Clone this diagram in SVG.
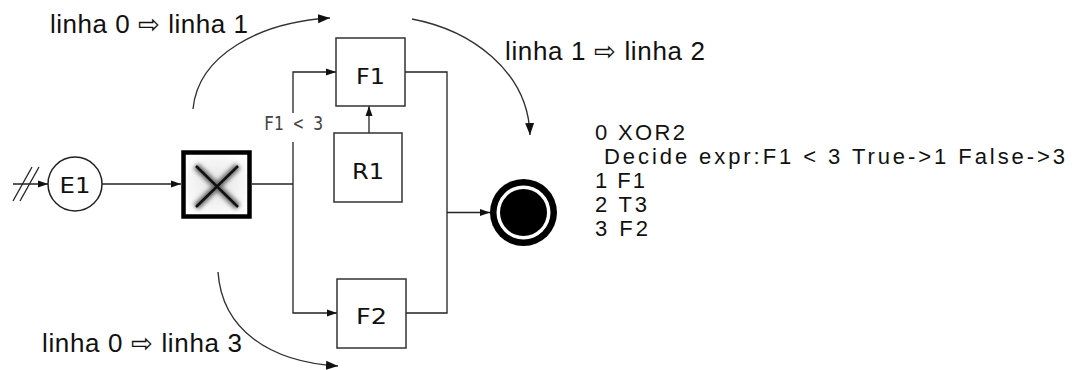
<svg xmlns="http://www.w3.org/2000/svg" width="1074" height="370" viewBox="0 0 1074 370">
<style>
.box{fill:#fff;stroke:#333;stroke-width:1.5}
.lbl{font-family:"DejaVu Sans",sans-serif;font-size:22px;fill:#111;text-anchor:middle}
.note{font-family:"Liberation Sans",Arial,"DejaVu Sans",sans-serif;font-size:26px;fill:#111}
.list{font-family:"Liberation Sans",Arial,sans-serif;font-size:22px;fill:#111}
.cond{font-family:"DejaVu Sans Mono",monospace;font-size:19px;fill:#444}
.ln{fill:none;stroke:#222;stroke-width:1.3}
.arc{fill:none;stroke:#333;stroke-width:1.4}
</style>
<defs>
<marker id="ah" markerUnits="userSpaceOnUse" markerWidth="10" markerHeight="10" viewBox="0 0 10 10" refX="10" refY="5" orient="auto">
<path d="M0,1.5 L10,5 L0,8.5 Z" fill="#111"/>
</marker>
<marker id="ahb" markerUnits="userSpaceOnUse" markerWidth="12" markerHeight="12" viewBox="0 0 12 12" refX="12" refY="6" orient="auto">
<path d="M0,1.5 L12,6 L0,10.5 Z" fill="#111"/>
</marker>
<filter id="blur" x="-20%" y="-20%" width="140%" height="140%">
<feGaussianBlur stdDeviation="2"/>
</filter>
<radialGradient id="gw" cx="0.5" cy="0.5" r="0.6">
<stop offset="0" stop-color="#e4e4e4"/>
<stop offset="1" stop-color="#fff"/>
</radialGradient>
</defs>

<g id="connectors">
<line class="ln" x1="13" y1="184" x2="48" y2="184" marker-end="url(#ah)"/>
<line class="ln" x1="13" y1="201" x2="32" y2="167"/>
<line class="ln" x1="20" y1="201" x2="39" y2="167"/>
<line class="ln" x1="102" y1="184" x2="181" y2="184" marker-end="url(#ah)"/>
<line class="ln" x1="252" y1="184" x2="293" y2="184"/>
<line class="ln" x1="293" y1="184" x2="293" y2="142"/>
<polyline class="ln" points="293,113 293,72 336,72" marker-end="url(#ah)"/>
<polyline class="ln" points="293,184 293,313 337,313" marker-end="url(#ah)"/>
<line class="ln" x1="369" y1="133" x2="369" y2="106" marker-end="url(#ah)"/>
<polyline class="ln" points="405,72 447,72 447,313 406,313"/>
<line class="ln" x1="447" y1="212.5" x2="490" y2="212.5" marker-end="url(#ah)"/>
<path class="arc" d="M193,109 C198,55 260,22 330,18" marker-end="url(#ahb)"/>
<path class="arc" d="M412,19 C470,30 528,70 530,135" marker-end="url(#ahb)"/>
<path class="arc" d="M218,272 C222,330 270,362 338,366" marker-end="url(#ahb)"/>
<text class="cond" x="264" y="130" textLength="59" lengthAdjust="spacingAndGlyphs">F1 &lt; 3</text>
</g>

<g id="E1">
<circle cx="75" cy="184" r="27" fill="#fff" stroke="#222" stroke-width="1.5"/>
<text class="lbl" x="75" y="192.5" textLength="31" lengthAdjust="spacingAndGlyphs">E1</text>
</g>

<g id="XOR2">
<rect x="183.5" y="152.5" width="66" height="64" fill="url(#gw)" stroke="#000" stroke-width="4.5"/>
<g filter="url(#blur)" stroke="#666" stroke-width="7">
<line x1="196" y1="166" x2="238" y2="207"/>
<line x1="238" y1="166" x2="196" y2="207"/>
</g>
<g stroke="#111" stroke-width="2.5">
<line x1="196" y1="166" x2="238" y2="207"/>
<line x1="238" y1="166" x2="196" y2="207"/>
</g>
</g>

<g id="F1">
<rect class="box" x="336" y="38" width="69" height="68"/>
<text class="lbl" x="370.5" y="83.5" textLength="29" lengthAdjust="spacingAndGlyphs">F1</text>
</g>

<g id="R1">
<rect class="box" x="334" y="133" width="68" height="69"/>
<text class="lbl" x="368" y="178.5" textLength="32" lengthAdjust="spacingAndGlyphs">R1</text>
</g>

<g id="F2">
<rect class="box" x="337" y="279" width="69" height="69"/>
<text class="lbl" x="371.5" y="324" textLength="31" lengthAdjust="spacingAndGlyphs">F2</text>
</g>

<g id="end">
<circle cx="523.5" cy="212.5" r="33.5" fill="#000"/>
<circle cx="523.5" cy="212.5" r="27" fill="#fff"/>
<circle cx="523.5" cy="212.5" r="23.5" fill="#000"/>
</g>

<g id="notes">
<text class="note" x="50" y="33" textLength="198">linha 0 ⇨ linha 1</text>
<text class="note" x="505" y="60" textLength="200">linha 1 ⇨ linha 2</text>
<text class="note" x="42" y="352" textLength="200">linha 0 ⇨ linha 3</text>
</g>

<g id="listing">
<text class="list" x="595" y="140" textLength="90">0 XOR2</text>
<text class="list" x="604" y="164" textLength="461">Decide expr:F1 &lt; 3 True-&gt;1 False-&gt;3</text>
<text class="list" x="595" y="188" textLength="50">1 F1</text>
<text class="list" x="595" y="212" textLength="52">2 T3</text>
<text class="list" x="595" y="236" textLength="53">3 F2</text>
</g>
</svg>
